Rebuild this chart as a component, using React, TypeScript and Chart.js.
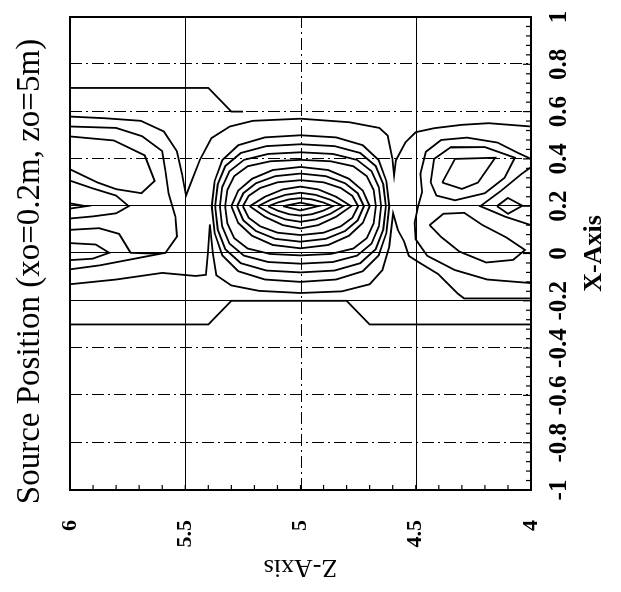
import React, { useEffect, useRef } from "react";
import { Chart, registerables } from "chart.js";

Chart.register(...registerables);

// ---------- text ----------
const TITLE = "Source Position (xo=0.2m, zo=5m)";
const X_TITLE = "X-Axis";
const Z_TITLE = "Z-Axis";

// ---------- axes ----------
const X_TICKS = [-1, -0.8, -0.6, -0.4, -0.2, 0, 0.2, 0.4, 0.6, 0.8, 1];
const Z_TICKS = [4, 4.5, 5, 5.5, 6];
const X_GRID_DASHED = [-0.8, -0.6, -0.4, 0.4, 0.6, 0.8];
const X_GRID_SOLID = [-0.2, 0, 0.2];
const Z_GRID_DASHED = [5];
const Z_GRID_SOLID = [4.5, 5.5];
const X_MINOR_STEP = 0.04;
const Z_MINOR_STEP = 0.1;

// ---------- contour lines, pairs of [Z, X] ----------
type P = [number, number];

const lineA: P[] = [[6, -0.3], [5.4, -0.3], [5.3, -0.2], [4.8, -0.2], [4.7, -0.3], [4, -0.3]];
const lineB: P[] = [[6, 0.7], [5.4, 0.7], [5.3, 0.6], [5.25, 0.6]];
const lineC: P[] = [[6, 0.579], [5.85, 0.572], [5.693, 0.561], [5.593, 0.516], [5.536, 0.432], [5.514, 0.334], [5.497, 0.245], [5.436, 0.397], [5.386, 0.488], [5.307, 0.537], [5.207, 0.561], [5.0, 0.57], [4.788, 0.555], [4.658, 0.531], [4.622, 0.499], [4.601, 0.401], [4.594, 0.33], [4.586, 0.394], [4.545, 0.47], [4.5, 0.513], [4.419, 0.53], [4.301, 0.544], [4.184, 0.551], [4, 0.537]];
const lineD: P[] = [[6, -0.13], [5.8, -0.11], [5.6, -0.082], [5.455, -0.095], [5.41, -0.09], [5.402, 0.0], [5.393, 0.123], [5.38, 0.0], [5.365, -0.092], [5.3, -0.135], [5.18, -0.158], [5.0, -0.167], [4.82, -0.16], [4.7, -0.13], [4.645, -0.07], [4.615, 0.03], [4.598, 0.17], [4.578, 0.1], [4.55, 0.05], [4.53, -0.01], [4.49, -0.035], [4.403, -0.087], [4.317, -0.17], [4.29, -0.19], [4, -0.19]];
const lineE: P[] = [[6, 0.537], [5.8, 0.531], [5.687, 0.496], [5.6, 0.433], [5.586, 0.35], [5.572, 0.253], [5.543, 0.156], [5.536, 0.072], [5.586, 0.003], [5.72, -0.022], [5.87, -0.05], [6, -0.067]];
const lobeUL: P[] = [[6, 0.495], [5.81, 0.478], [5.676, 0.415], [5.633, 0.307], [5.69, 0.255], [5.8, 0.272], [5.88, 0.3], [6, 0.356]];
const wedgeL: P[] = [[6, 0.308], [5.9, 0.275], [5.8, 0.245], [5.745, 0.2], [5.8, 0.17], [5.9, 0.157], [6, 0.148]];
const sliverL: P[] = [[6, 0.212], [5.93, 0.2], [6, 0.19]];
const lobeLLo: P[] = [[6, 0.1], [5.874, 0.107], [5.787, 0.083], [5.737, 0.003], [5.65, 0.0], [5.586, 0.003]];
const lobeLLi: P[] = [[6, 0.044], [5.888, 0.038], [5.83, 0.003], [5.902, -0.022], [6, -0.028]];
const lineER: P[] = [[4, 0.4], [4.056, 0.425], [4.145, 0.469], [4.278, 0.49], [4.39, 0.48], [4.456, 0.43], [4.48, 0.337], [4.472, 0.26], [4.49, 0.2], [4.505, 0.13], [4.5, 0.06], [4.45, -0.01], [4.33, -0.07], [4.19, -0.11], [4, -0.125]];
const loopRg: P[] = [[4.435, 0.3], [4.42, 0.4], [4.35, 0.448], [4.2, 0.45], [4.07, 0.405], [4.115, 0.32], [4.2, 0.255], [4.33, 0.225], [4.41, 0.245], [4.435, 0.3]];
const loopRd: P[] = [[4.385, 0.3], [4.33, 0.4], [4.155, 0.405], [4.23, 0.3], [4.3, 0.273], [4.385, 0.3]];
const wedgeR: P[] = [[4, 0.365], [4.04, 0.337], [4.13, 0.265], [4.22, 0.2], [4.11, 0.155], [4, 0.12]];
const diamondR: P[] = [[4.148, 0.2], [4.1, 0.235], [4.037, 0.202], [4.1, 0.168], [4.148, 0.2]];
const loopLR: P[] = [[4.44, 0.12], [4.38, 0.168], [4.29, 0.172], [4.21, 0.12], [4.107, 0.068], [4.026, 0.015], [4.078, -0.027], [4.195, -0.038], [4.31, 0.008], [4.39, 0.07], [4.44, 0.12]];

// central peak rings (outer to inner)
const ring0: P[] = [[5.385, 0.2], [5.373, 0.305], [5.339, 0.395], [5.27, 0.458], [5.154, 0.491], [5.0, 0.5], [4.846, 0.491], [4.73, 0.458], [4.661, 0.395], [4.627, 0.305], [4.615, 0.2], [4.627, 0.088], [4.661, -0.008], [4.73, -0.075], [4.846, -0.11], [5.0, -0.12], [5.154, -0.11], [5.27, -0.075], [5.339, -0.008], [5.373, 0.088], [5.385, 0.2]];
const ring1: P[] = [[5.37, 0.2], [5.359, 0.292], [5.326, 0.37], [5.259, 0.425], [5.148, 0.454], [5.0, 0.462], [4.852, 0.454], [4.741, 0.425], [4.674, 0.37], [4.641, 0.292], [4.63, 0.2], [4.641, 0.102], [4.674, 0.018], [4.741, -0.041], [4.852, -0.072], [5.0, -0.08], [5.148, -0.072], [5.259, -0.041], [5.326, 0.018], [5.359, 0.102], [5.37, 0.2]];
const ring2: P[] = [[5.35, 0.2], [5.34, 0.28], [5.308, 0.348], [5.245, 0.396], [5.14, 0.421], [5.0, 0.428], [4.86, 0.421], [4.755, 0.396], [4.692, 0.348], [4.66, 0.28], [4.65, 0.2], [4.66, 0.115], [4.692, 0.042], [4.755, -0.009], [4.86, -0.036], [5.0, -0.043], [5.14, -0.036], [5.245, -0.009], [5.308, 0.042], [5.34, 0.115], [5.35, 0.2]];
const ring3: P[] = [[5.327, 0.2], [5.317, 0.269], [5.288, 0.327], [5.229, 0.369], [5.131, 0.39], [5.0, 0.396], [4.869, 0.39], [4.771, 0.369], [4.712, 0.327], [4.683, 0.269], [4.673, 0.2], [4.683, 0.127], [4.712, 0.065], [4.771, 0.021], [4.869, -0.002], [5.0, -0.008], [5.131, -0.002], [5.229, 0.021], [5.288, 0.065], [5.317, 0.127], [5.327, 0.2]];
const ring4: P[] = [[5.3, 0.2], [5.27, 0.266], [5.21, 0.316], [5.12, 0.353], [5.0, 0.366], [4.88, 0.353], [4.79, 0.316], [4.73, 0.266], [4.7, 0.2], [4.73, 0.129], [4.79, 0.075], [4.88, 0.036], [5.0, 0.022], [5.12, 0.036], [5.21, 0.075], [5.27, 0.129], [5.3, 0.2]];
const ring5: P[] = [[5.275, 0.2], [5.248, 0.255], [5.193, 0.297], [5.11, 0.327], [5.0, 0.338], [4.89, 0.327], [4.807, 0.297], [4.752, 0.255], [4.725, 0.2], [4.752, 0.14], [4.807, 0.095], [4.89, 0.062], [5.0, 0.05], [5.11, 0.062], [5.193, 0.095], [5.248, 0.14], [5.275, 0.2]];
const ring6: P[] = [[5.25, 0.2], [5.225, 0.244], [5.175, 0.277], [5.1, 0.301], [5.0, 0.31], [4.9, 0.301], [4.825, 0.277], [4.775, 0.244], [4.75, 0.2], [4.775, 0.151], [4.825, 0.115], [4.9, 0.088], [5.0, 0.078], [5.1, 0.088], [5.175, 0.115], [5.225, 0.151], [5.25, 0.2]];
const ring7: P[] = [[5.22, 0.2], [5.154, 0.24], [5.077, 0.271], [5.0, 0.283], [4.923, 0.271], [4.846, 0.24], [4.78, 0.2], [4.846, 0.155], [4.923, 0.12], [5.0, 0.106], [5.077, 0.12], [5.154, 0.155], [5.22, 0.2]];
const ring8: P[] = [[5.185, 0.2], [5.13, 0.227], [5.065, 0.248], [5.0, 0.257], [4.935, 0.248], [4.87, 0.227], [4.815, 0.2], [4.87, 0.168], [4.935, 0.144], [5.0, 0.134], [5.065, 0.144], [5.13, 0.168], [5.185, 0.2]];
const ring9: P[] = [[5.14, 0.2], [5.098, 0.216], [5.049, 0.229], [5.0, 0.234], [4.951, 0.229], [4.902, 0.216], [4.86, 0.2], [4.902, 0.181], [4.951, 0.166], [5.0, 0.16], [5.049, 0.166], [5.098, 0.181], [5.14, 0.2]];
const ring10: P[] = [[5.075, 0.2], [5.0, 0.215], [4.925, 0.2], [5.0, 0.182], [5.075, 0.2]];

const CONTOURS: P[][] = [
  lineA, lineB, lineC, lineD, lineE, lobeUL, wedgeL, sliverL, lobeLLo, lobeLLi,
  lineER, loopRg, loopRd, wedgeR, diamondR, loopLR,
  ring0, ring1, ring2, ring3, ring4, ring5, ring6, ring7, ring8, ring9, ring10,
];

const SERIF = "'Liberation Serif', 'Times New Roman', Times, serif";

const framePlugin = {
  id: "frameAndGrid",
  beforeDatasetsDraw(chart: any) {
    const { ctx, chartArea: ca, scales } = chart;
    const xs = scales.x;
    const ys = scales.y;
    ctx.save();
    ctx.strokeStyle = "#000";
    ctx.lineWidth = 1;
    const vline = (v: number, dash: number[]) => {
      const p = Math.round(xs.getPixelForValue(v)) + 0.5;
      ctx.setLineDash(dash);
      ctx.beginPath();
      ctx.moveTo(p, ca.top);
      ctx.lineTo(p, ca.bottom);
      ctx.stroke();
    };
    const hline = (v: number, dash: number[]) => {
      const p = Math.round(ys.getPixelForValue(v)) + 0.5;
      ctx.setLineDash(dash);
      ctx.beginPath();
      ctx.moveTo(ca.left, p);
      ctx.lineTo(ca.right, p);
      ctx.stroke();
    };
    X_GRID_DASHED.forEach((v) => vline(v, [12, 4, 2, 4]));
    X_GRID_SOLID.forEach((v) => vline(v, []));
    Z_GRID_DASHED.forEach((v) => hline(v, [12, 4, 2, 4]));
    Z_GRID_SOLID.forEach((v) => hline(v, []));
    ctx.restore();
  },
  afterDatasetsDraw(chart: any) {
    const { ctx, chartArea: ca, scales } = chart;
    const xs = scales.x;
    const ys = scales.y;
    ctx.save();
    ctx.strokeStyle = "#000";
    ctx.setLineDash([]);
    ctx.lineWidth = 2;
    ctx.strokeRect(ca.left, ca.top, ca.right - ca.left, ca.bottom - ca.top);
    ctx.lineWidth = 1.2;
    const xMin = X_TICKS[0];
    const xMax = X_TICKS[X_TICKS.length - 1];
    const nx = Math.round((xMax - xMin) / X_MINOR_STEP);
    for (let i = 0; i <= nx; i++) {
      const v = xMin + i * X_MINOR_STEP;
      const major = i % 5 === 0;
      const p = xs.getPixelForValue(v);
      ctx.beginPath();
      ctx.moveTo(p, ca.bottom);
      ctx.lineTo(p, ca.bottom - (major ? 8 : 5));
      ctx.stroke();
    }
    const zMin = Z_TICKS[0];
    const zMax = Z_TICKS[Z_TICKS.length - 1];
    const nz = Math.round((zMax - zMin) / Z_MINOR_STEP);
    for (let i = 0; i <= nz; i++) {
      const v = zMin + i * Z_MINOR_STEP;
      const p = ys.getPixelForValue(v);
      ctx.beginPath();
      ctx.moveTo(ca.left, p);
      ctx.lineTo(ca.left + 5, p);
      ctx.stroke();
    }
    ctx.restore();
  },
  afterDraw(chart: any) {
    const { ctx, chartArea: ca } = chart;
    ctx.save();
    ctx.fillStyle = "#000";
    ctx.font = `33px ${SERIF}`;
    ctx.textAlign = "center";
    ctx.textBaseline = "middle";
    ctx.fillText(TITLE, (ca.left + ca.right) / 2 - 18, 30);
    ctx.restore();
  },
};

export default function App() {
  const ref = useRef<HTMLCanvasElement | null>(null);

  useEffect(() => {
    if (!ref.current) return;
    const chart = new Chart(ref.current, {
      type: "scatter",
      data: {
        datasets: CONTOURS.map((c) => ({
          data: c.map(([z, x]) => ({ x, y: z })),
          showLine: true,
          borderColor: "#000",
          borderWidth: 1.8,
          pointRadius: 0,
          pointHoverRadius: 0,
          fill: false,
          tension: 0,
        })),
      },
      options: {
        responsive: false,
        animation: false,
        devicePixelRatio: 1,
        layout: { padding: { top: 70, right: 17, bottom: 0, left: 0 } },
        plugins: {
          legend: { display: false },
          tooltip: { enabled: false },
          title: { display: false },
        },
        scales: {
          x: {
            type: "linear",
            min: -1,
            max: 1,
            afterBuildTicks: (s: any) => {
              s.ticks = X_TICKS.map((v) => ({ value: v }));
            },
            afterFit: (s: any) => {
              s.height = 90;
            },
            grid: { display: false },
            border: { display: false },
            ticks: {
              color: "#000",
              padding: 6,
              maxRotation: 0,
              autoSkip: false,
              font: { family: SERIF, size: 25, weight: "bold" },
              callback: (v: any) => String(v),
            },
            title: {
              display: true,
              text: X_TITLE,
              color: "#000",
              font: { family: SERIF, size: 26, weight: "bold" },
              padding: { top: 4, bottom: 11 },
            },
          },
          y: {
            type: "linear",
            min: 4,
            max: 6,
            afterBuildTicks: (s: any) => {
              s.ticks = Z_TICKS.map((v) => ({ value: v }));
            },
            afterFit: (s: any) => {
              s.width = 102;
            },
            grid: { display: false },
            border: { display: false },
            ticks: {
              color: "#000",
              padding: 22,
              autoSkip: false,
              font: { family: SERIF, size: 22, weight: "bold" },
              callback: (v: any) => String(v),
            },
            title: {
              display: true,
              text: Z_TITLE,
              color: "#000",
              font: { family: SERIF, size: 26, weight: "normal" },
              padding: { top: 10, bottom: 0 },
            },
          },
        },
      } as any,
      plugins: [framePlugin],
    });
    return () => chart.destroy();
  }, []);

  return (
    <div
      style={{
        position: "fixed",
        left: 0,
        top: 0,
        width: 621,
        height: 592,
        overflow: "hidden",
        background: "#fff",
      }}
    >
      <div
        style={{
          position: "absolute",
          left: 0,
          top: 0,
          width: 592,
          height: 621,
          transformOrigin: "0 0",
          transform: "translate(0px, 592px) rotate(-90deg)",
        }}
      >
        <canvas ref={ref} width={592} height={621} style={{ display: "block", width: 592, height: 621 }} />
      </div>
    </div>
  );
}
